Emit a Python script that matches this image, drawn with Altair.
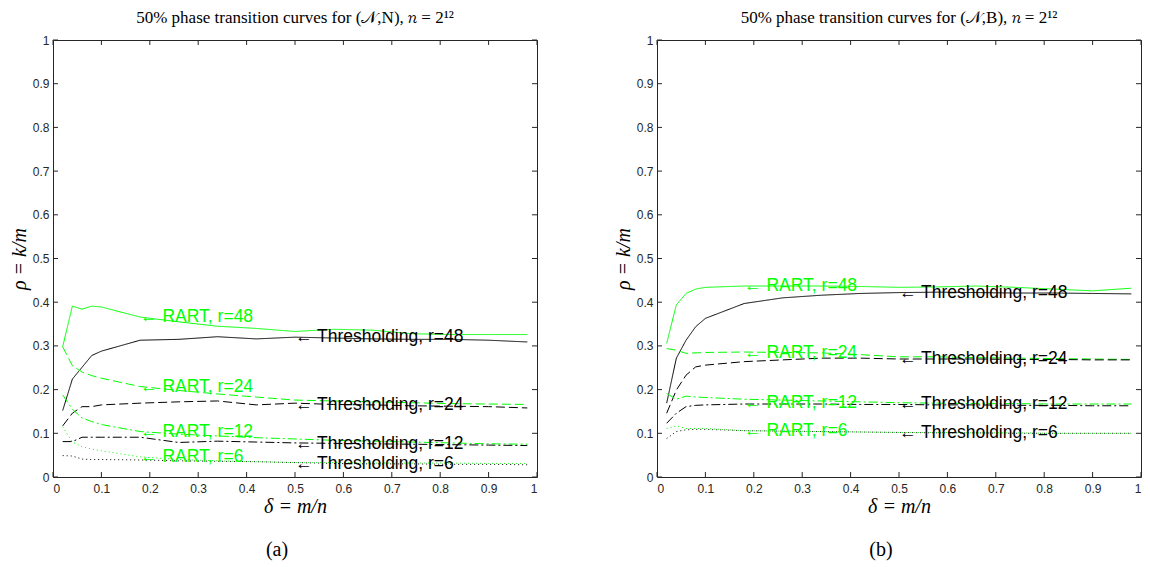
import altair as alt
import pandas as pd

# ---------------- data ----------------
delta = [0.02, 0.04, 0.06, 0.08, 0.1, 0.18, 0.26, 0.34, 0.42, 0.5, 0.58, 0.66, 0.74, 0.82, 0.9, 0.98]
ticks = [0, 0.1, 0.2, 0.3, 0.4, 0.5, 0.6, 0.7, 0.8, 0.9, 1]
r_values = ["48", "24", "12", "6"]

# panel (a): (N, N)
a_rart48 = [0.298, 0.391, 0.384, 0.391, 0.389, 0.366, 0.355, 0.345, 0.340, 0.333, 0.338, 0.336, 0.328, 0.326, 0.326, 0.326]
a_thr48 = [0.152, 0.224, 0.251, 0.278, 0.288, 0.313, 0.315, 0.321, 0.316, 0.320, 0.318, 0.316, 0.315, 0.315, 0.313, 0.309]
a_rart24 = [0.298, 0.255, 0.240, 0.232, 0.226, 0.207, 0.198, 0.190, 0.183, 0.176, 0.174, 0.172, 0.170, 0.168, 0.167, 0.166]
a_thr24 = [0.117, 0.146, 0.161, 0.161, 0.165, 0.169, 0.172, 0.174, 0.165, 0.169, 0.166, 0.165, 0.163, 0.162, 0.161, 0.158]
a_rart12 = [0.188, 0.155, 0.135, 0.127, 0.120, 0.104, 0.098, 0.094, 0.090, 0.087, 0.084, 0.082, 0.080, 0.078, 0.076, 0.075]
a_thr12 = [0.081, 0.081, 0.091, 0.091, 0.091, 0.091, 0.079, 0.082, 0.080, 0.078, 0.077, 0.076, 0.075, 0.074, 0.073, 0.072]
a_rart6 = [0.115, 0.080, 0.069, 0.064, 0.060, 0.046, 0.040, 0.037, 0.035, 0.033, 0.033, 0.032, 0.032, 0.032, 0.031, 0.031]
a_thr6 = [0.049, 0.048, 0.041, 0.040, 0.040, 0.039, 0.037, 0.036, 0.035, 0.033, 0.031, 0.030, 0.030, 0.029, 0.029, 0.028]

# panel (b): (N, B)
b_rart48 = [0.306, 0.394, 0.420, 0.430, 0.434, 0.437, 0.437, 0.437, 0.436, 0.434, 0.435, 0.437, 0.434, 0.430, 0.426, 0.432]
b_thr48 = [0.169, 0.272, 0.313, 0.344, 0.363, 0.397, 0.410, 0.416, 0.420, 0.422, 0.423, 0.422, 0.421, 0.421, 0.420, 0.419]
b_rart24 = [0.294, 0.290, 0.283, 0.284, 0.285, 0.286, 0.285, 0.284, 0.280, 0.275, 0.275, 0.273, 0.272, 0.271, 0.270, 0.269]
b_thr24 = [0.146, 0.199, 0.233, 0.252, 0.256, 0.264, 0.268, 0.272, 0.272, 0.270, 0.270, 0.270, 0.269, 0.269, 0.268, 0.268]
b_rart12 = [0.191, 0.178, 0.185, 0.183, 0.182, 0.178, 0.176, 0.174, 0.172, 0.170, 0.169, 0.168, 0.168, 0.167, 0.167, 0.167]
b_thr12 = [0.123, 0.146, 0.161, 0.164, 0.165, 0.167, 0.167, 0.167, 0.166, 0.166, 0.165, 0.165, 0.164, 0.164, 0.163, 0.163]
b_rart6 = [0.111, 0.117, 0.111, 0.111, 0.111, 0.106, 0.105, 0.104, 0.103, 0.102, 0.102, 0.101, 0.101, 0.100, 0.100, 0.100]
b_thr6 = [0.088, 0.104, 0.108, 0.109, 0.109, 0.106, 0.105, 0.104, 0.103, 0.102, 0.101, 0.101, 0.100, 0.100, 0.100, 0.100]

# label anchor positions (delta, rho) for each curve annotation
a_label_delta = {"RART": 0.18, "Thresholding": 0.5}
a_label_rho = {("RART", "48"): 0.366, ("RART", "24"): 0.207, ("RART", "12"): 0.104, ("RART", "6"): 0.046,
               ("Thresholding", "48"): 0.320, ("Thresholding", "24"): 0.165, ("Thresholding", "12"): 0.075,
               ("Thresholding", "6"): 0.030}
b_label_delta = {"RART": 0.18, "Thresholding": 0.5}
b_label_rho = {("RART", "48"): 0.437, ("RART", "24"): 0.283, ("RART", "12"): 0.170, ("RART", "6"): 0.106,
               ("Thresholding", "48"): 0.420, ("Thresholding", "24"): 0.270, ("Thresholding", "12"): 0.166,
               ("Thresholding", "6"): 0.100}

GREEN = "#00ff00"
W, H = 484, 437


def build_df(series):
    rows = []
    for (method, r), vals in series.items():
        for d, v in zip(delta, vals):
            rows.append({"delta": d, "rho": v, "method": method, "r": r, "series": f"{method} {r}"})
    return pd.DataFrame(rows)


def panel(series, lab_delta, lab_rho, title, caption):
    df = build_df(series)
    lab = pd.DataFrame([
        {"delta": lab_delta[m], "rho": v, "method": m, "text": f"\u2190 {m}, r={r}"}
        for (m, r), v in lab_rho.items()
    ])
    tdf = pd.DataFrame({"t": ticks})

    xs = alt.Scale(domain=[0, 1], nice=False, zero=False)
    ys = alt.Scale(domain=[0, 1], nice=False, zero=False)
    cs = alt.Scale(domain=["RART", "Thresholding"], range=[GREEN, "#000000"])
    ds = alt.Scale(domain=r_values, range=[[1, 0], [9, 4], [9, 3, 2, 3], [1, 3]])
    xax = alt.Axis(values=ticks, format="~g", title="δ = m/n", grid=False, labelPadding=6, titlePadding=2)
    yax = alt.Axis(values=ticks, format="~g", title="ρ = k/m", grid=False, labelPadding=4, titlePadding=3)

    lines = alt.Chart(df).mark_line(strokeWidth=1, clip=True).encode(
        x=alt.X("delta:Q", scale=xs, axis=xax),
        y=alt.Y("rho:Q", scale=ys, axis=yax),
        color=alt.Color("method:N", scale=cs, legend=None),
        strokeDash=alt.StrokeDash("r:N", scale=ds, legend=None),
        detail="series:N",
    )
    texts = alt.Chart(lab).mark_text(align="left", baseline="middle", font="Liberation Sans",
                                     fontSize=17.5).encode(
        x=alt.X("delta:Q", scale=xs, axis=xax), y=alt.Y("rho:Q", scale=ys, axis=yax),
        text="text:N", color=alt.Color("method:N", scale=cs, legend=None))

    tc = "#262626"
    tb = alt.Chart(tdf).mark_rule(color=tc, strokeWidth=1).encode(
        x=alt.X("t:Q", scale=xs, axis=xax), y=alt.value(H), y2=alt.value(H - 5))
    tt = alt.Chart(tdf).mark_rule(color=tc, strokeWidth=1).encode(
        x=alt.X("t:Q", scale=xs, axis=xax), y=alt.value(0), y2=alt.value(5))
    tl = alt.Chart(tdf).mark_rule(color=tc, strokeWidth=1).encode(
        y=alt.Y("t:Q", scale=ys, axis=yax), x=alt.value(0), x2=alt.value(5))
    tr = alt.Chart(tdf).mark_rule(color=tc, strokeWidth=1).encode(
        y=alt.Y("t:Q", scale=ys, axis=yax), x=alt.value(W), x2=alt.value(W - 5))

    cap = alt.Chart(pd.DataFrame({"c": [caption]})).mark_text(
        font="Liberation Serif", fontSize=20, baseline="middle", align="center", color="black").encode(
        text="c:N", x=alt.value(W / 2 - 18), y=alt.value(H + 73))

    return alt.layer(lines, texts, tb, tt, tl, tr, cap).properties(
        width=W, height=H,
        title=alt.TitleParams(title, font="Liberation Serif", fontSize=17, fontWeight="normal",
                              color="black", offset=1, dy=-6))


series_a = {("RART", "48"): a_rart48, ("Thresholding", "48"): a_thr48,
            ("RART", "24"): a_rart24, ("Thresholding", "24"): a_thr24,
            ("RART", "12"): a_rart12, ("Thresholding", "12"): a_thr12,
            ("RART", "6"): a_rart6, ("Thresholding", "6"): a_thr6}
series_b = {("RART", "48"): b_rart48, ("Thresholding", "48"): b_thr48,
            ("RART", "24"): b_rart24, ("Thresholding", "24"): b_thr24,
            ("RART", "12"): b_rart12, ("Thresholding", "12"): b_thr12,
            ("RART", "6"): b_rart6, ("Thresholding", "6"): b_thr6}

left = panel(series_a, a_label_delta, a_label_rho,
             "50% phase transition curves for (\U0001D4A9,N), \U0001D45B = 2\u00b9\u00b2", "(a)")
right = panel(series_b, b_label_delta, b_label_rho,
              "50% phase transition curves for (\U0001D4A9,B), \U0001D45B = 2\u00b9\u00b2", "(b)")

chart = alt.hconcat(left, right, spacing=74).properties(
    padding=0, background="white"
).configure_view(
    stroke="#262626", strokeWidth=1
).configure_axis(
    domain=False, ticks=False, grid=False,
    labelFont="Liberation Sans", labelFontSize=12, labelColor="#262626",
    titleFont="Liberation Serif", titleFontSize=20, titleFontStyle="italic",
    titleFontWeight="normal", titleColor="black",
)

chart.save("out.html", embed_options={"renderer": "svg", "actions": False})
